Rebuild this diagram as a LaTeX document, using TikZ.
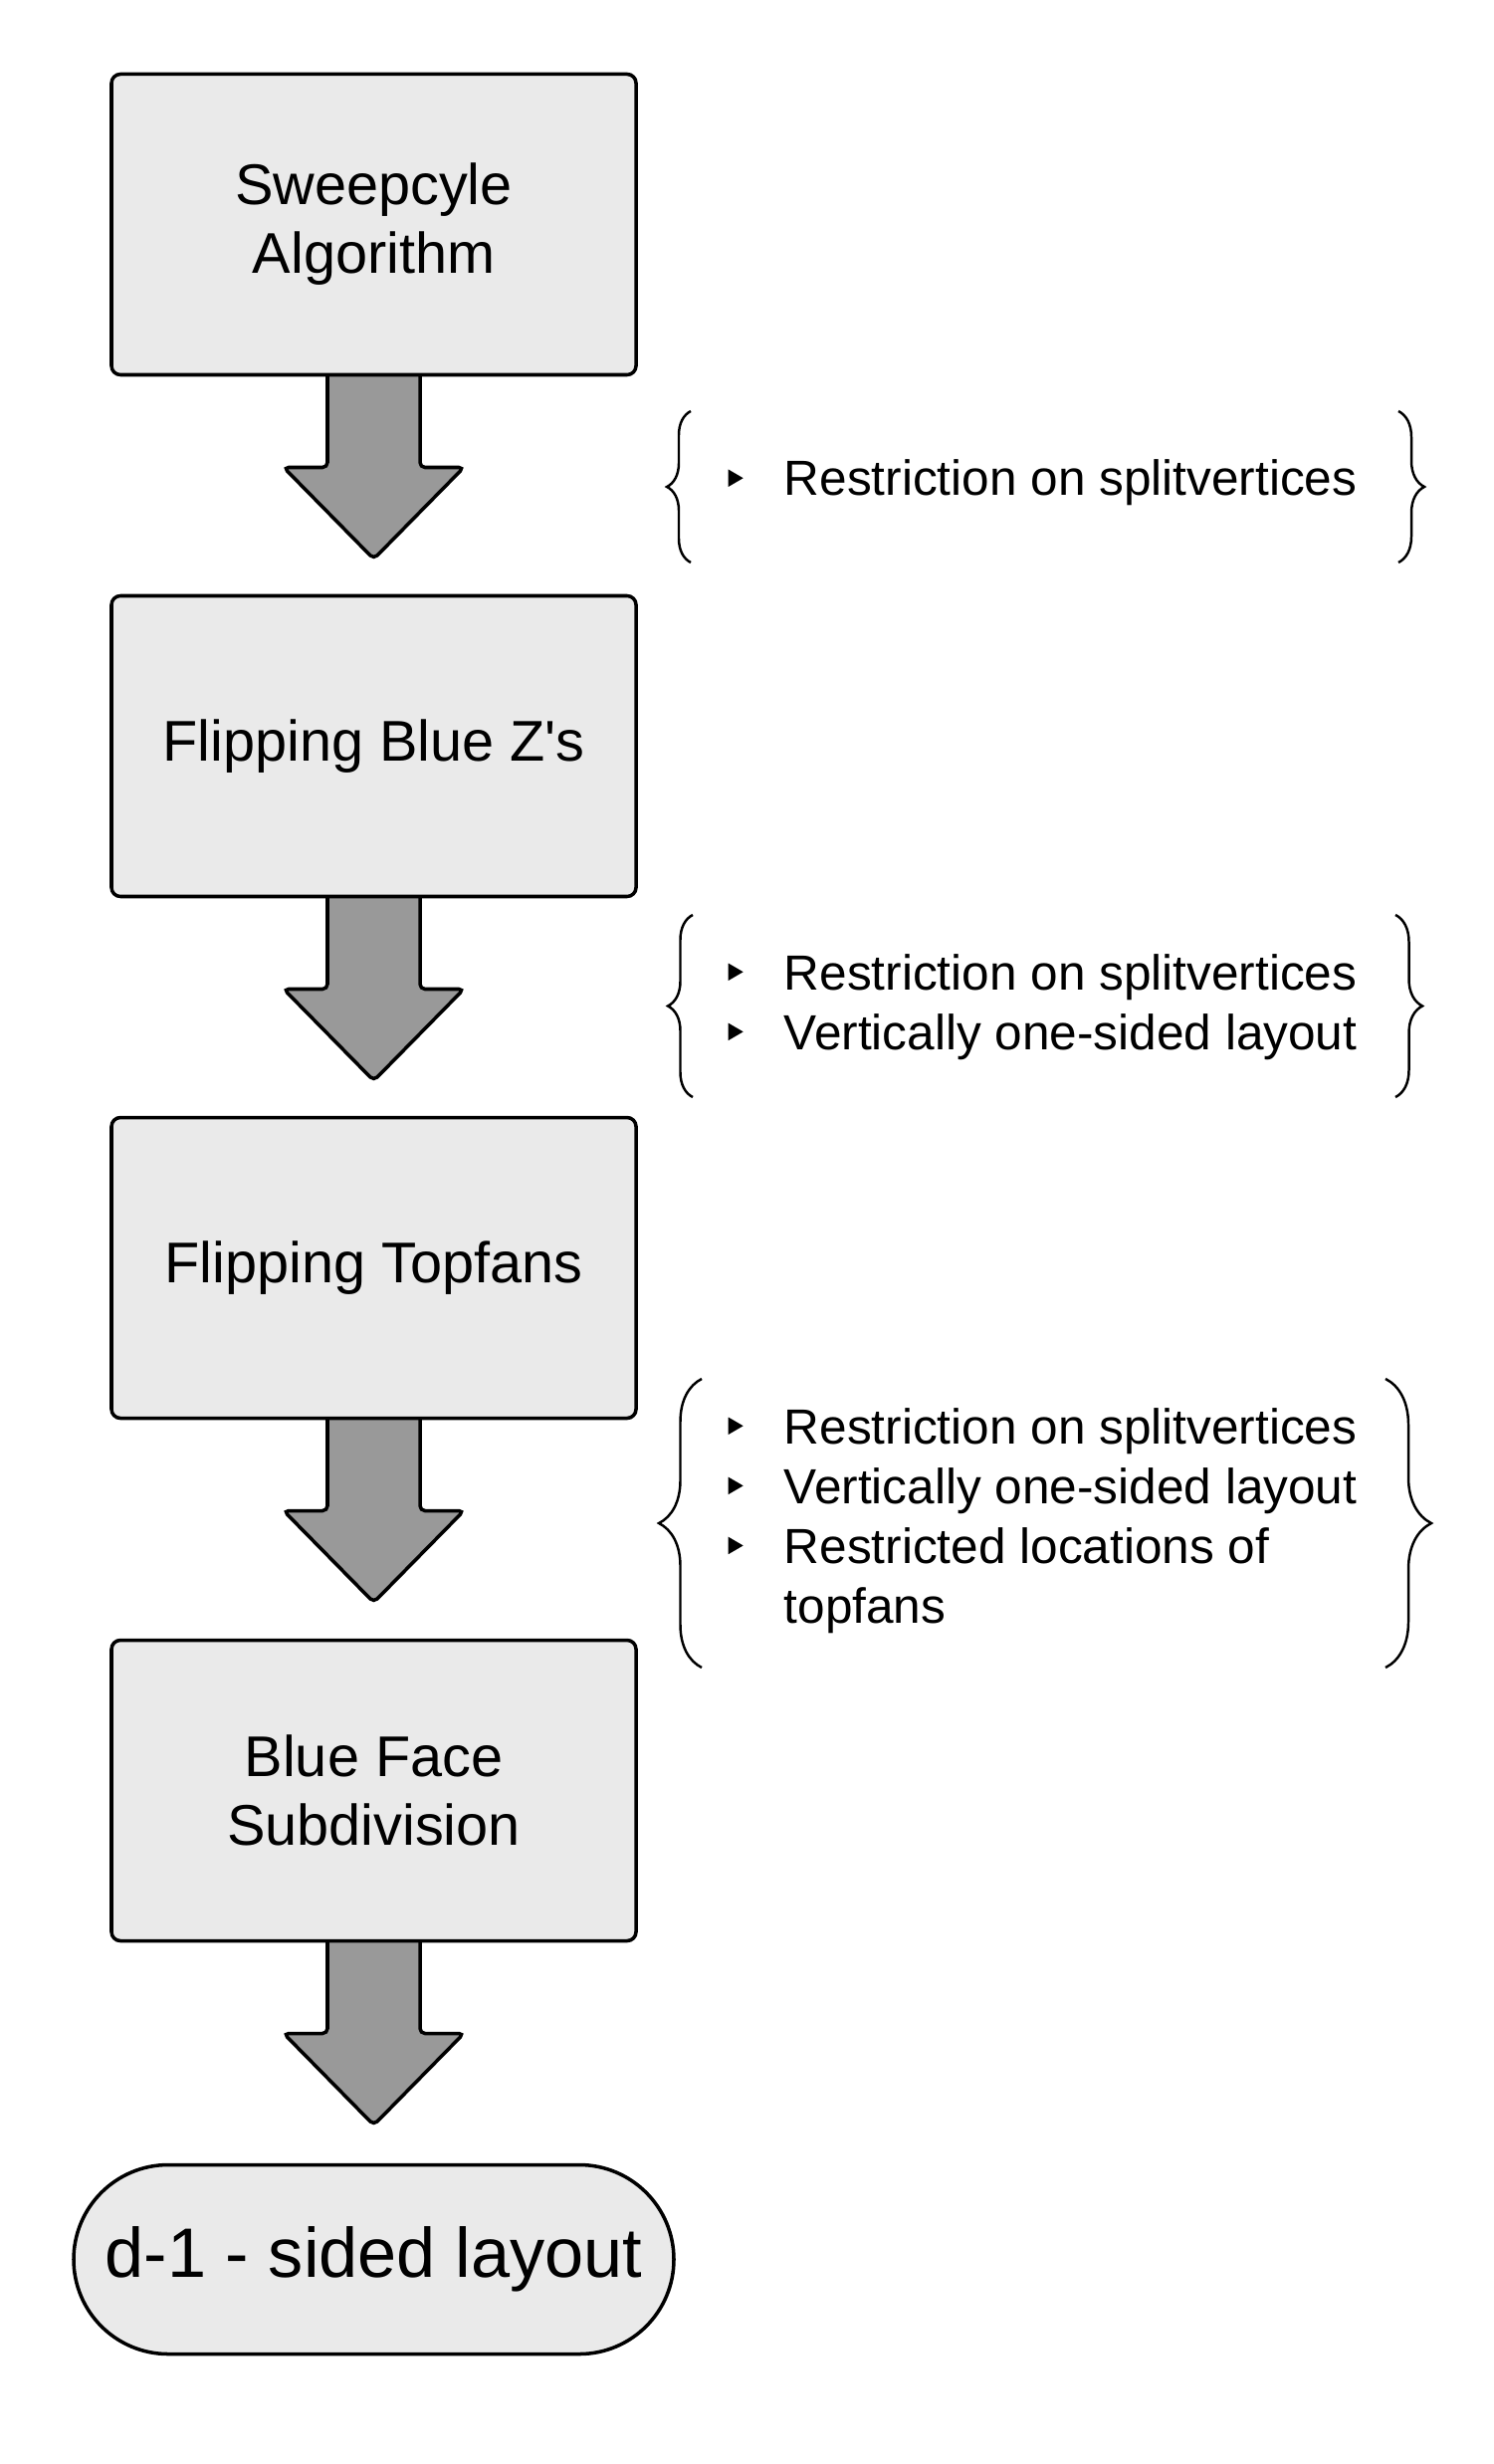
\documentclass[tikz,border=0pt]{standalone}
\usepackage{fontspec}
\setmainfont{Liberation Sans}
\usetikzlibrary{positioning,shapes.misc,backgrounds,decorations.pathreplacing}
\definecolor{boxGray}{HTML}{EAEAEA}
\definecolor{arrowGray}{HTML}{999999}
\newcommand{\tribullet}{\tikz[baseline=-0.09cm]\fill (0,0) -- (0,0.175) -- (0.15,0.0875) -- cycle;}

\begin{document}
\begin{tikzpicture}[
  stage/.style={draw,line width=1pt,fill=boxGray,rounded corners=0.09cm,minimum width=5.27cm,minimum height=3.02cm,inner sep=0pt,outer sep=0pt,align=center,font=\fontsize{16.4}{19.6}\selectfont},
  terminal/.style={draw,line width=1pt,fill=boxGray,rounded rectangle,minimum width=6.03cm,minimum height=1.9cm,inner sep=0pt,outer sep=0pt,font=\fontsize{20}{23}\selectfont},
  flowarrow/.style={draw,line width=1pt,fill=arrowGray,rounded corners=0.05cm},
  notes/.style={inner sep=0pt,anchor=base west,font=\fontsize{14.1}{17.1}\selectfont},
  curly/.style={decorate,decoration={brace,amplitude=#1},line width=0.7pt}
]
\useasboundingbox (0,0) rectangle (15,-24.75);

% steps
\node[stage] (sweep) at (3.755,-2.255) {Sweepcyle\\Algorithm};
\node[stage,below=2.22cm of sweep] (flipz) {Flipping Blue Z\textquotesingle s};
\node[stage,below=2.22cm of flipz] (fliptop) {Flipping Topfans};
\node[stage,below=2.23cm of fliptop] (subdiv) {Blue Face\\Subdivision};
\node[terminal,below=2.25cm of subdiv] (result) {d-1 - sided layout};

% block arrows
\begin{scope}[on background layer]
\foreach \from in {sweep,flipz,fliptop,subdiv}
  \draw[flowarrow] (\from.south) ++(-0.465,0) -- ++(0,-0.93) -- ++(-0.44,0) -- ++(0.905,-0.92) -- ++(0.905,0.92) -- ++(-0.44,0) -- ++(0,0.93);
\end{scope}

% restrictions
\node[notes] (rest1) at (7.31,-4.98) {\begin{tabular}[t]{@{}l@{\hspace{0.41cm}}l@{}}
\tribullet & Restriction on splitvertices
\end{tabular}};
\node[notes] (rest2) at (7.31,-9.94) {\begin{tabular}[t]{@{}l@{\hspace{0.41cm}}l@{}}
\tribullet & Restriction on splitvertices\\
\tribullet & Vertically one-sided layout
\end{tabular}};
\node[notes] (rest3) at (7.31,-14.50) {\begin{tabular}[t]{@{}l@{\hspace{0.41cm}}l@{}}
\tribullet & Restriction on splitvertices\\
\tribullet & Vertically one-sided layout\\
\tribullet & Restricted locations of\\
 & topfans
\end{tabular}};

% braces
\draw[curly=0.24cm] (6.94,-5.65) -- (6.94,-4.13);
\draw[curly=0.26cm] (14.05,-4.13) -- (14.05,-5.65);
\draw[curly=0.25cm] (6.96,-11.02) -- (6.96,-9.19);
\draw[curly=0.27cm] (14.02,-9.19) -- (14.02,-11.02);
\draw[curly=0.43cm] (7.05,-16.75) -- (7.05,-13.85);
\draw[curly=0.46cm] (13.92,-13.85) -- (13.92,-16.75);
\end{tikzpicture}
\end{document}
